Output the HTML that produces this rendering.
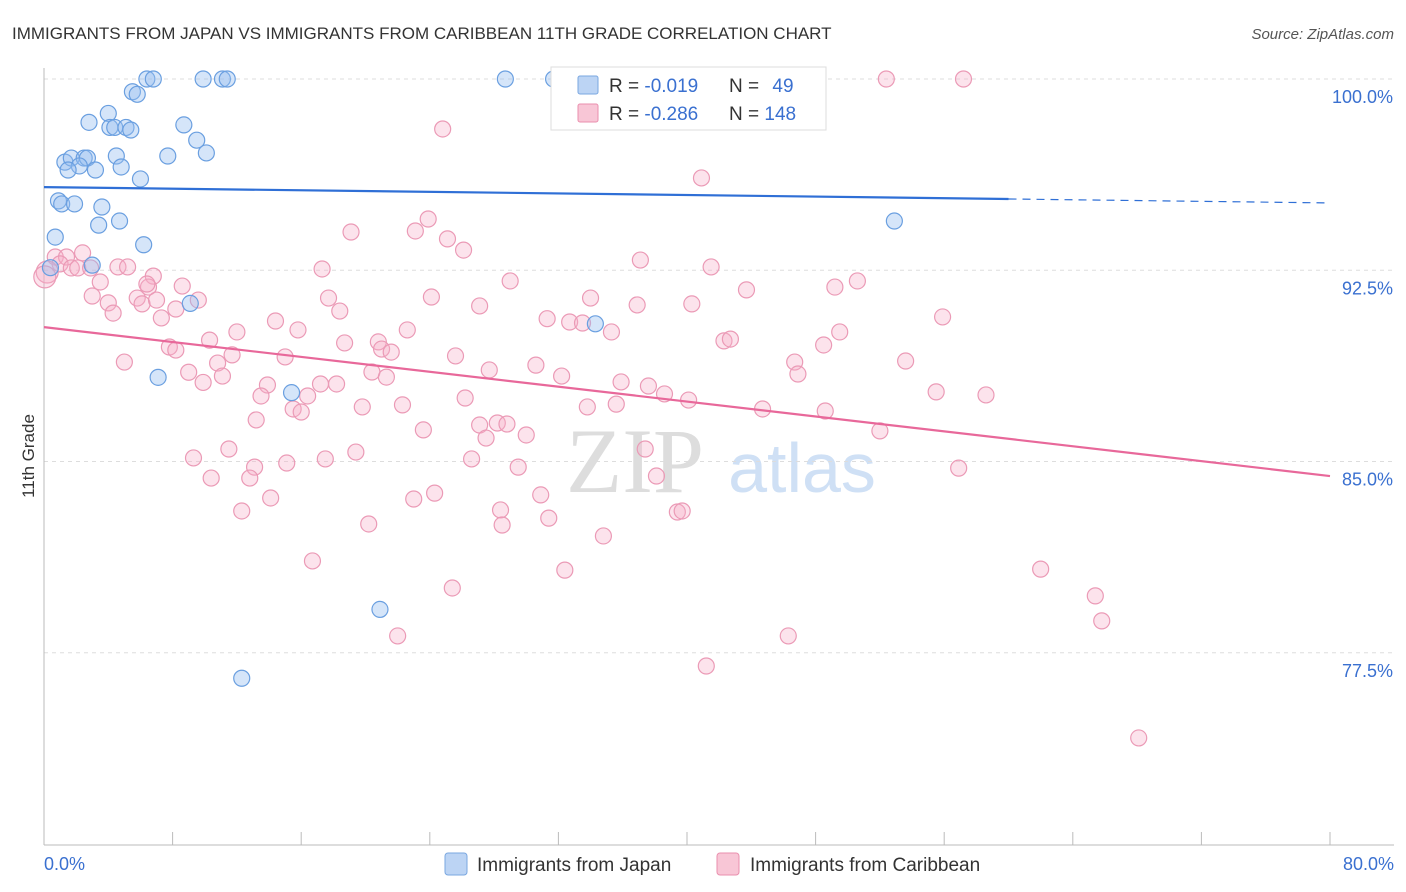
<!DOCTYPE html>
<html><head><meta charset="utf-8">
<style>
body{margin:0;background:#fff;font-family:"Liberation Sans",sans-serif;}
#wrap{position:relative;width:1406px;height:892px;overflow:hidden;}
</style></head>
<body>
<div id="wrap">
<svg id="svg" width="1406" height="892" xmlns="http://www.w3.org/2000/svg">
<text x="12" y="39" font-size="17" fill="#333">IMMIGRANTS FROM JAPAN VS IMMIGRANTS FROM CARIBBEAN 11TH GRADE CORRELATION CHART</text>
<text x="1394" y="39" font-size="15" fill="#555" text-anchor="end" font-style="italic">Source: ZipAtlas.com</text>
<text x="34" y="456" font-size="17" fill="#333" text-anchor="middle" transform="rotate(-90 34 456)">11th Grade</text>
<g><text x="635" y="492" font-size="92" fill="#ddd" text-anchor="middle" font-family="Liberation Serif,serif">ZIP</text><text x="802" y="492" font-size="70" fill="#cfe0f5" text-anchor="middle">atlas</text></g>
<g id="grid"></g><g id="axes"></g><g id="pts"></g><g id="trend"></g>
<g>
<rect x="551" y="67" width="275" height="63" fill="#fff" stroke="#ddd"/>
<rect x="578" y="76" width="20" height="18" fill="#bcd4f4" stroke="#7aa7e0" rx="2"/>
<text x="609" y="92" font-size="19" fill="#333">R = <tspan fill="#3a70d0">-0.019</tspan></text>
<text x="729" y="92" font-size="19" fill="#333">N = <tspan fill="#3a70d0" dx="8">49</tspan></text>
<rect x="578" y="104" width="20" height="18" fill="#f8c6d6" stroke="#ea8fae" rx="2"/>
<text x="609" y="120" font-size="19" fill="#333">R = <tspan fill="#3a70d0">-0.286</tspan></text>
<text x="729" y="120" font-size="19" fill="#333">N = <tspan fill="#3a70d0">148</tspan></text>
</g>
<g>
<rect x="445" y="853" width="22" height="22" fill="#bcd4f4" stroke="#7aa7e0" rx="3"/>
<text x="477" y="871" font-size="19" fill="#333">Immigrants from Japan</text>
<rect x="717" y="853" width="22" height="22" fill="#f8c6d6" stroke="#ea8fae" rx="3"/>
<text x="750" y="871" font-size="19" fill="#333">Immigrants from Caribbean</text>
</g>
</svg>
</div>
<script>
const blueX=[6.4,6.8,9.9,11.1,11.4,28.7,31.7,37.8,43.1,4.0,5.5,5.8,2.8,4.1,4.4,5.1,5.4,8.7,9.5,7.7,10.1,4.5,1.3,1.7,2.5,2.7,2.2,1.5,3.2,4.8,6.0,0.9,1.1,1.9,3.6,52.9,4.7,3.4,0.7,6.2,3.0,0.4,9.1,34.3,7.1,15.4,20.9,12.3];
const blueY=[100,100,100,100,100,100,100,100,100,98.65,99.5,99.4,98.3,98.1,98.1,98.1,98.0,98.2,97.6,96.98,97.1,96.98,96.74,96.9,96.9,96.9,96.59,96.43,96.43,96.55,96.08,95.22,95.1,95.1,94.98,94.43,94.43,94.27,93.8,93.5,92.7,92.6,91.2,90.4,88.3,87.7,79.2,76.5];
const pinkX=[52.4,57.2,24.8,40.9,23.9,23.1,19.1,25.1,26.1,0.7,1.4,2.4,1.0,1.7,2.1,2.9,4.6,5.2,6.8,17.3,29.0,37.1,41.5,50.6,49.2,43.7,3.0,3.5,4.0,4.3,5.8,6.1,6.5,7.0,6.4,8.6,9.6,8.2,7.3,24.1,17.7,18.4,27.1,34.0,36.9,40.3,14.4,15.8,12.0,10.3,31.3,32.7,33.5,35.3,55.9,49.5,22.6,18.7,20.8,21.0,21.6,7.8,8.2,5.0,10.8,11.7,15.0,25.6,30.6,42.3,42.7,48.5,53.6,46.7,46.9,9.0,9.9,11.1,13.9,17.2,18.2,20.4,21.3,27.7,32.2,35.9,37.6,13.5,16.4,26.2,38.6,40.1,55.5,58.6,15.5,16.0,22.3,19.8,33.8,35.6,44.7,48.6,13.2,23.6,27.1,27.5,28.2,28.8,30.0,52.0,37.4,11.5,9.3,15.1,17.5,19.4,26.6,13.1,12.8,10.4,29.5,56.9,38.1,24.3,23.0,30.9,14.1,12.3,28.4,20.2,31.4,39.4,39.7,28.5,34.8,16.7,32.4,62.0,25.4,65.4,65.8,22.0,46.3,41.2,68.1,0.2,0.05];
const pinkY=[100,100,98.04,96.12,94.51,94.04,94.0,93.73,93.29,93.02,93.02,93.18,92.75,92.59,92.59,92.59,92.63,92.63,92.27,92.55,92.08,92.9,92.63,92.08,91.84,91.73,91.49,92.04,91.22,90.82,91.41,91.18,91.84,91.33,91.96,91.88,91.33,90.98,90.63,91.45,91.41,90.9,91.1,91.41,91.14,91.18,90.51,90.16,90.08,89.76,90.6,90.47,90.43,90.08,90.67,90.08,90.16,89.65,89.69,89.41,89.29,89.49,89.37,88.9,88.86,89.18,89.1,89.14,88.78,89.73,89.8,89.57,88.94,88.9,88.43,88.5,88.1,88.35,88.0,88.04,88.04,88.51,88.31,88.59,88.35,88.12,87.96,87.57,87.57,87.49,87.65,87.41,87.73,87.61,87.06,86.94,87.22,87.14,87.14,87.25,87.06,86.98,86.63,86.24,86.43,85.92,86.51,86.47,86.04,86.2,85.49,85.49,85.14,84.94,85.1,85.37,85.1,84.78,84.35,84.35,84.78,84.74,84.43,83.76,83.53,83.69,83.57,83.06,83.1,82.55,82.78,83.02,83.06,82.51,82.08,81.1,80.74,80.78,80.04,79.73,78.75,78.16,78.16,76.98,74.16,92.43,92.24];
const yTicks=[100,92.5,85,77.5];
const yTickLabels=["100.0%","92.5%","85.0%","77.5%"];
const trendBlue=[95.76,95.14], trendPink=[90.27,84.43];
const X=v=>44+v*16.075, Y=v=>79+(100-v)*25.5;
const NS="http://www.w3.org/2000/svg";
function mk(tag,attrs,parent){const e=document.createElementNS(NS,tag);for(const k in attrs)e.setAttribute(k,attrs[k]);parent.appendChild(e);return e;}
const grid=document.getElementById('grid'),axes=document.getElementById('axes'),pts=document.getElementById('pts'),tr=document.getElementById('trend');
yTicks.forEach((t,i)=>{
 const l=mk('line',{x1:44,x2:1394,y1:Y(t),y2:Y(t),stroke:'#ddd','stroke-dasharray':'4 4'},grid);
 
 
 const tx=mk('text',{x:1393,y:Y(t)+24,'font-size':18,fill:'#3a70d0','text-anchor':'end'},grid);
 tx.textContent=yTickLabels[i];
 
 
});
const ax=mk('line',{x1:44,x2:44,y1:68,y2:845,stroke:'#bbb'},axes);


const bx=mk('line',{x1:44,x2:1394,y1:845,y2:845,stroke:'#bbb'},axes);


for(let i=0;i<=10;i++){const t=mk('line',{x1:X(i*8),x2:X(i*8),y1:832,y2:845,stroke:'#bbb'},axes);
 
 }
const x0=mk('text',{x:44,y:870,'font-size':18,fill:'#3a70d0'},axes);x0.textContent='0.0%';


const x1=mk('text',{x:1394,y:870,'font-size':18,fill:'#3a70d0','text-anchor':'end'},axes);x1.textContent='80.0%';


pinkX.forEach((v,i)=>{const c=mk('circle',{cx:X(v),cy:Y(pinkY[i]),r:i>=pinkX.length-2?11:8,fill:'rgba(245,175,200,0.35)',stroke:'#eb9ab6','stroke-width':1.2},pts);
 
 });
blueX.forEach((v,i)=>{const c=mk('circle',{cx:X(v),cy:Y(blueY[i]),r:8,fill:'rgba(150,190,240,0.4)',stroke:'#6a9fe0','stroke-width':1.2},pts);
 
 });
const bs=(trendBlue[1]-trendBlue[0])/80, xe=60;
const b1=mk('line',{x1:X(0),y1:Y(trendBlue[0]),x2:X(xe),y2:Y(trendBlue[0]+bs*xe),stroke:'#2f6fd6','stroke-width':2.2},tr);


const b2=mk('line',{x1:X(xe),y1:Y(trendBlue[0]+bs*xe),x2:X(80),y2:Y(trendBlue[1]),stroke:'#2f6fd6','stroke-width':1.2,'stroke-dasharray':'8 6'},tr);


const p1=mk('line',{x1:X(0),y1:Y(trendPink[0]),x2:X(80),y2:Y(trendPink[1]),stroke:'#e8689a','stroke-width':2.2},tr);


</script>
</body></html>
